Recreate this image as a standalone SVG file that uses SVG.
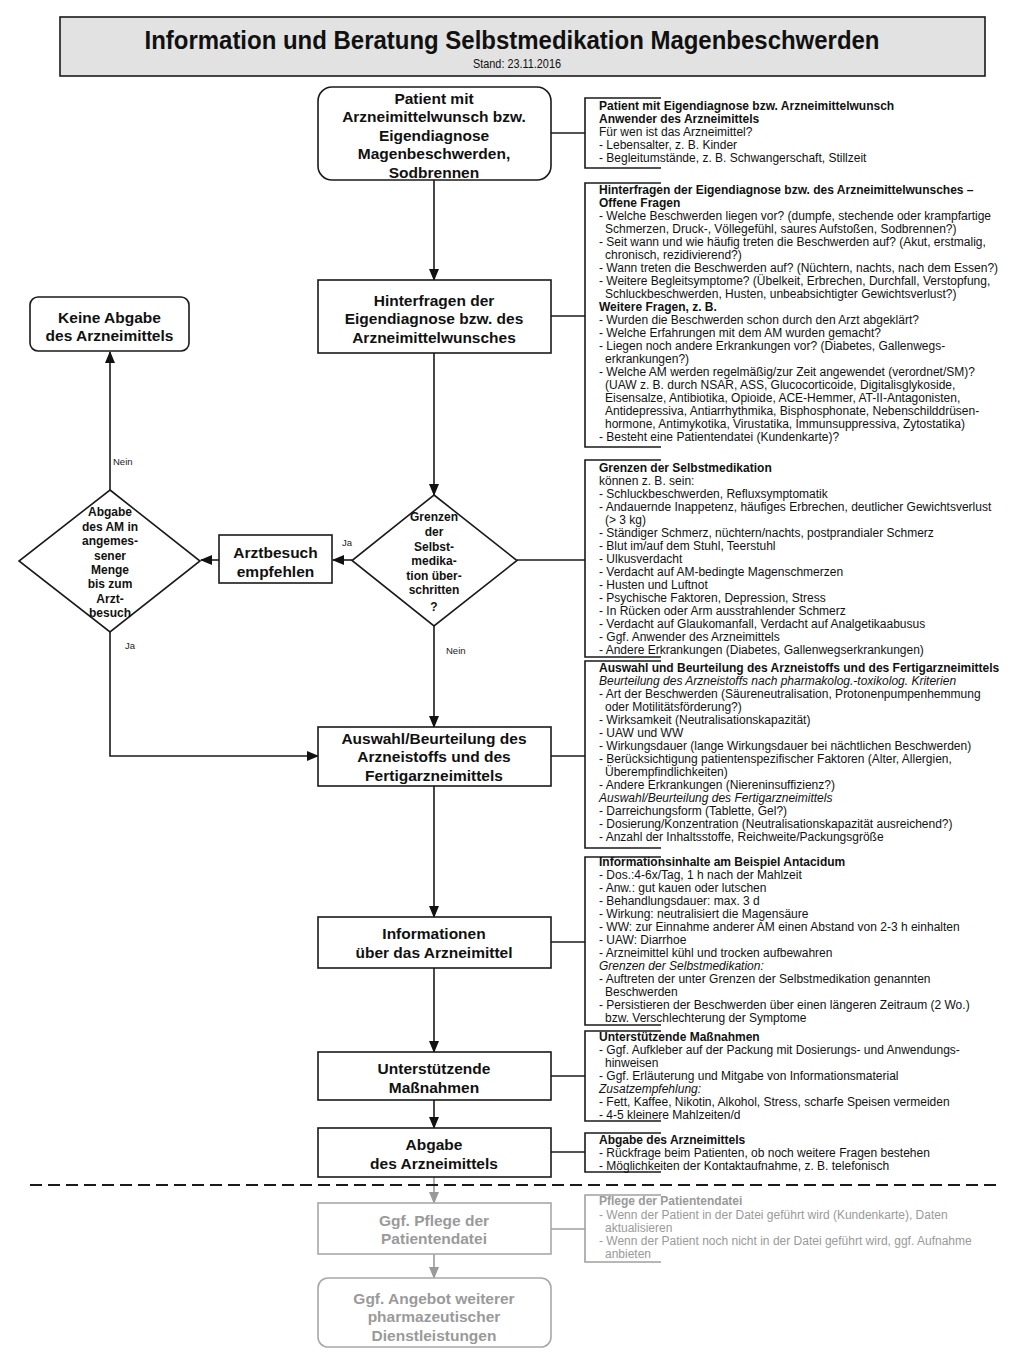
<svg xmlns="http://www.w3.org/2000/svg" width="1024" height="1366" viewBox="0 0 1024 1366">
<style>
.bx{fill:#fff;stroke:#1a1a1a;stroke-width:1.6}
.gbx{fill:#fff;stroke:#a8a8a8;stroke-width:1.6}
.nt{font-family:"Liberation Sans",Arial,sans-serif;font-weight:bold;font-size:15.5px;fill:#111;text-anchor:middle}
.gnt{font-family:"Liberation Sans",Arial,sans-serif;font-weight:bold;font-size:15.5px;fill:#9a9a9a;text-anchor:middle}
.dt{font-family:"Liberation Sans",Arial,sans-serif;font-weight:bold;font-size:12px;fill:#111;text-anchor:middle}
.lb{font-family:"Liberation Sans",Arial,sans-serif;font-size:9.5px;fill:#222}
.tx{font-family:"Liberation Sans",Arial,sans-serif;font-size:12px;fill:#111}
.gtx{font-family:"Liberation Sans",Arial,sans-serif;font-size:12px;fill:#9a9a9a}
.b{font-weight:bold}
.i{font-style:italic}
.ln{fill:none;stroke:#1a1a1a;stroke-width:1.6}
.gln{fill:none;stroke:#a0a0a0;stroke-width:1.6}
.ar{fill:none;stroke:#1a1a1a;stroke-width:1.6;marker-end:url(#ah)}
.gar{fill:none;stroke:#999;stroke-width:1.6;marker-end:url(#gah)}
</style>
<defs>
<marker id="ah" markerUnits="userSpaceOnUse" markerWidth="12" markerHeight="10" refX="11" refY="5" orient="auto"><path d="M0,0 L12,5 L0,10 z" fill="#111"/></marker>
<marker id="gah" markerUnits="userSpaceOnUse" markerWidth="12" markerHeight="10" refX="11" refY="5" orient="auto"><path d="M0,0 L12,5 L0,10 z" fill="#999"/></marker>
</defs>
<rect width="1024" height="1366" fill="#fff"/>

<g id="header">
<rect x="60" y="17" width="925" height="59" fill="#e2e2e2" stroke="#1a1a1a" stroke-width="1.6"/>
<text x="512" y="48.5" font-family="'Liberation Sans',Arial,sans-serif" font-weight="bold" font-size="25" text-anchor="middle" textLength="735" lengthAdjust="spacingAndGlyphs" fill="#111">Information und Beratung Selbstmedikation Magenbeschwerden</text>
<text x="517" y="68" font-family="'Liberation Sans',Arial,sans-serif" font-size="13" text-anchor="middle" textLength="88" lengthAdjust="spacingAndGlyphs" fill="#111">Stand: 23.11.2016</text>
</g>

<g id="connectors">
<path class="ar" d="M434,180 V280"/>
<path class="ar" d="M434,353 V495"/>
<path class="ar" d="M434,626 V727"/>
<path class="ar" d="M434,786 V917"/>
<path class="ar" d="M434,968 V1052"/>
<path class="ar" d="M434,1100 V1128"/>
<path class="gar" d="M434,1177 V1203"/>
<path class="gar" d="M434,1254 V1278"/>
<path class="ar" d="M352,560 H333"/>
<path class="ar" d="M219,560 H201"/>
<path class="ar" d="M110,490 V352"/>
<path class="ar" d="M110,632 V756 H318"/>
<path class="ln" d="M551,133 H585"/>
<path class="ln" d="M551,316 H585"/>
<path class="ln" d="M517,560 H585"/>
<path class="ln" d="M551,756 H585"/>
<path class="ln" d="M551,942 H585"/>
<path class="ln" d="M551,1076 H585"/>
<path class="ln" d="M551,1152 H585"/>
<path class="gln" d="M551,1229 H585"/>
<text class="lb" x="113" y="465">Nein</text>
<text class="lb" x="342" y="546">Ja</text>
<text class="lb" x="125" y="649">Ja</text>
<text class="lb" x="446" y="654">Nein</text>
<path d="M30,1185 H1000" fill="none" stroke="#1a1a1a" stroke-width="2" stroke-dasharray="12,6"/>
</g>

<g id="n-patient">
<rect class="bx" x="318" y="87" width="233" height="93" rx="14"/>
<text class="nt" x="434" y="103.5">Patient mit</text>
<text class="nt" x="434" y="122">Arzneimittelwunsch bzw.</text>
<text class="nt" x="434" y="140.5">Eigendiagnose</text>
<text class="nt" x="434" y="159">Magenbeschwerden,</text>
<text class="nt" x="434" y="177.5">Sodbrennen</text>
</g>

<g id="n-hinterfragen">
<rect class="bx" x="318" y="280" width="233" height="73"/>
<text class="nt" x="434" y="305.5">Hinterfragen der</text>
<text class="nt" x="434" y="324">Eigendiagnose bzw. des</text>
<text class="nt" x="434" y="342.5">Arzneimittelwunsches</text>
</g>

<g id="n-grenzen">
<path class="bx" d="M434,495 L517,560.5 L434,626 L352,560.5 Z"/>
<text class="dt" x="434" y="521">Grenzen</text>
<text class="dt" x="434" y="536">der</text>
<text class="dt" x="434" y="551">Selbst-</text>
<text class="dt" x="434" y="565">medika-</text>
<text class="dt" x="434" y="580">tion über-</text>
<text class="dt" x="434" y="594">schritten</text>
<text class="dt" x="434" y="611">?</text>
</g>

<g id="n-arztbesuch">
<rect class="bx" x="219" y="535" width="113" height="48"/>
<text class="nt" x="275.5" y="557.5">Arztbesuch</text>
<text class="nt" x="275.5" y="576.5">empfehlen</text>
</g>

<g id="n-abgabe-am">
<path class="bx" d="M110,490 L200,561 L110,632 L19,561 Z"/>
<text class="dt" x="110" y="516">Abgabe</text>
<text class="dt" x="110" y="531">des AM in</text>
<text class="dt" x="110" y="545">angemes-</text>
<text class="dt" x="110" y="560">sener</text>
<text class="dt" x="110" y="574">Menge</text>
<text class="dt" x="110" y="588">bis zum</text>
<text class="dt" x="110" y="603">Arzt-</text>
<text class="dt" x="110" y="617">besuch</text>
</g>

<g id="n-keine-abgabe">
<rect class="bx" x="30" y="297" width="159" height="54" rx="8"/>
<text class="nt" x="109.5" y="322.5">Keine Abgabe</text>
<text class="nt" x="109.5" y="340.5">des Arzneimittels</text>
</g>

<g id="n-auswahl">
<rect class="bx" x="318" y="727" width="233" height="59"/>
<text class="nt" x="434" y="743.5">Auswahl/Beurteilung des</text>
<text class="nt" x="434" y="762">Arzneistoffs und des</text>
<text class="nt" x="434" y="780.5">Fertigarzneimittels</text>
</g>

<g id="n-informationen">
<rect class="bx" x="318" y="917" width="233" height="51"/>
<text class="nt" x="434" y="938.5">Informationen</text>
<text class="nt" x="434" y="957.5">über das Arzneimittel</text>
</g>

<g id="n-unterstuetzende">
<rect class="bx" x="318" y="1052" width="233" height="48"/>
<text class="nt" x="434" y="1073.5">Unterstützende</text>
<text class="nt" x="434" y="1092.5">Maßnahmen</text>
</g>

<g id="n-abgabe">
<rect class="bx" x="318" y="1128" width="233" height="49"/>
<text class="nt" x="434" y="1150">Abgabe</text>
<text class="nt" x="434" y="1168.5">des Arzneimittels</text>
</g>

<g id="n-pflege">
<rect class="gbx" x="318" y="1203" width="233" height="51"/>
<text class="gnt" x="434" y="1225.5">Ggf. Pflege der</text>
<text class="gnt" x="434" y="1243.5">Patientendatei</text>
</g>

<g id="n-angebot">
<rect class="gbx" x="318" y="1278" width="233" height="69" rx="10"/>
<text class="gnt" x="434" y="1303.5">Ggf. Angebot weiterer</text>
<text class="gnt" x="434" y="1322">pharmazeutischer</text>
<text class="gnt" x="434" y="1340.5">Dienstleistungen</text>
</g>

<g id="note-1">
<path class="ln" d="M661,98 H585 V168 H661"/>
<text class="tx">
<tspan class="b" x="599" y="110">Patient mit Eigendiagnose bzw. Arzneimittelwunsch</tspan>
<tspan class="b" x="599" y="123">Anwender des Arzneimittels</tspan>
<tspan x="599" y="136">Für wen ist das Arzneimittel?</tspan>
<tspan x="599" y="149">- Lebensalter, z. B. Kinder</tspan>
<tspan x="599" y="162">- Begleitumstände, z. B. Schwangerschaft, Stillzeit</tspan>
</text>
</g>

<g id="note-2">
<path class="ln" d="M661,183 H585 V447 H661"/>
<text class="tx">
<tspan class="b" x="599" y="194">Hinterfragen der Eigendiagnose bzw. des Arzneimittelwunsches –</tspan>
<tspan class="b" x="599" y="207">Offene Fragen</tspan>
<tspan x="599" y="220">- Welche Beschwerden liegen vor? (dumpfe, stechende oder krampfartige</tspan>
<tspan x="605" y="233">Schmerzen, Druck-, Völlegefühl, saures Aufstoßen, Sodbrennen?)</tspan>
<tspan x="599" y="246">- Seit wann und wie häufig treten die Beschwerden auf? (Akut, erstmalig,</tspan>
<tspan x="605" y="259">chronisch, rezidivierend?)</tspan>
<tspan x="599" y="272">- Wann treten die Beschwerden auf? (Nüchtern, nachts, nach dem  Essen?)</tspan>
<tspan x="599" y="285">- Weitere Begleitsymptome? (Übelkeit, Erbrechen, Durchfall, Verstopfung,</tspan>
<tspan x="605" y="298">Schluckbeschwerden, Husten, unbeabsichtigter Gewichtsverlust?)</tspan>
<tspan class="b" x="599" y="311">Weitere Fragen, z. B.</tspan>
<tspan x="599" y="324">- Wurden die Beschwerden schon durch den Arzt abgeklärt?</tspan>
<tspan x="599" y="337">- Welche Erfahrungen mit dem AM wurden gemacht?</tspan>
<tspan x="599" y="350">- Liegen noch andere Erkrankungen vor? (Diabetes, Gallenwegs-</tspan>
<tspan x="605" y="363">erkrankungen?)</tspan>
<tspan x="599" y="376">- Welche AM werden regelmäßig/zur Zeit angewendet (verordnet/SM)?</tspan>
<tspan x="605" y="389">(UAW z. B. durch NSAR, ASS, Glucocorticoide, Digitalisglykoside,</tspan>
<tspan x="605" y="402">Eisensalze, Antibiotika, Opioide, ACE-Hemmer, AT-II-Antagonisten,</tspan>
<tspan x="605" y="415">Antidepressiva, Antiarrhythmika, Bisphosphonate, Nebenschilddrüsen-</tspan>
<tspan x="605" y="428">hormone, Antimykotika, Virustatika, Immunsuppressiva, Zytostatika)</tspan>
<tspan x="599" y="441">- Besteht eine Patientendatei (Kundenkarte)?</tspan>
</text>
</g>

<g id="note-3">
<path class="ln" d="M661,460 H585 V657 H661"/>
<text class="tx">
<tspan class="b" x="599" y="472">Grenzen der Selbstmedikation</tspan>
<tspan x="599" y="485">können z. B. sein:</tspan>
<tspan x="599" y="498">- Schluckbeschwerden, Refluxsymptomatik</tspan>
<tspan x="599" y="511">- Andauernde Inappetenz, häufiges Erbrechen, deutlicher Gewichtsverlust</tspan>
<tspan x="605" y="524">(&gt; 3 kg)</tspan>
<tspan x="599" y="537">- Ständiger Schmerz, nüchtern/nachts, postprandialer Schmerz</tspan>
<tspan x="599" y="550">- Blut im/auf dem Stuhl, Teerstuhl</tspan>
<tspan x="599" y="563">- Ulkusverdacht</tspan>
<tspan x="599" y="576">- Verdacht auf AM-bedingte Magenschmerzen</tspan>
<tspan x="599" y="589">- Husten und Luftnot</tspan>
<tspan x="599" y="602">- Psychische Faktoren, Depression, Stress</tspan>
<tspan x="599" y="615">- In Rücken oder Arm ausstrahlender Schmerz</tspan>
<tspan x="599" y="628">- Verdacht auf Glaukomanfall, Verdacht auf Analgetikaabusus</tspan>
<tspan x="599" y="641">- Ggf. Anwender des Arzneimittels</tspan>
<tspan x="599" y="654">- Andere Erkrankungen (Diabetes, Gallenwegserkrankungen)</tspan>
</text>
</g>

<g id="note-4">
<path class="ln" d="M661,661 H585 V848 H661"/>
<text class="tx">
<tspan class="b" x="599" y="672">Auswahl und Beurteilung des Arzneistoffs und des Fertigarzneimittels</tspan>
<tspan class="i" x="599" y="685">Beurteilung des Arzneistoffs nach pharmakolog.-toxikolog. Kriterien</tspan>
<tspan x="599" y="698">- Art der Beschwerden (Säureneutralisation, Protonenpumpenhemmung</tspan>
<tspan x="605" y="711">oder Motilitätsförderung?)</tspan>
<tspan x="599" y="724">- Wirksamkeit (Neutralisationskapazität)</tspan>
<tspan x="599" y="737">- UAW und WW</tspan>
<tspan x="599" y="750">- Wirkungsdauer (lange Wirkungsdauer bei nächtlichen Beschwerden)</tspan>
<tspan x="599" y="763">- Berücksichtigung patientenspezifischer Faktoren (Alter, Allergien,</tspan>
<tspan x="605" y="776">Überempfindlichkeiten)</tspan>
<tspan x="599" y="789">- Andere Erkrankungen (Niereninsuffizienz?)</tspan>
<tspan class="i" x="599" y="802">Auswahl/Beurteilung des Fertigarzneimittels</tspan>
<tspan x="599" y="815">- Darreichungsform (Tablette, Gel?)</tspan>
<tspan x="599" y="828">- Dosierung/Konzentration (Neutralisationskapazität ausreichend?)</tspan>
<tspan x="599" y="841">- Anzahl der Inhaltsstoffe, Reichweite/Packungsgröße</tspan>
</text>
</g>

<g id="note-5">
<path class="ln" d="M661,857 H585 V1025 H661"/>
<text class="tx">
<tspan class="b" x="599" y="866">Informationsinhalte am Beispiel Antacidum</tspan>
<tspan x="599" y="879">- Dos.:4-6x/Tag, 1 h nach der Mahlzeit</tspan>
<tspan x="599" y="892">- Anw.: gut kauen oder lutschen</tspan>
<tspan x="599" y="905">- Behandlungsdauer: max. 3 d</tspan>
<tspan x="599" y="918">- Wirkung: neutralisiert die Magensäure</tspan>
<tspan x="599" y="931">- WW: zur Einnahme anderer AM einen Abstand von 2-3 h einhalten</tspan>
<tspan x="599" y="944">- UAW: Diarrhoe</tspan>
<tspan x="599" y="957">- Arzneimittel kühl und trocken aufbewahren</tspan>
<tspan class="i" x="599" y="970">Grenzen der Selbstmedikation:</tspan>
<tspan x="599" y="983">- Auftreten der unter Grenzen der Selbstmedikation genannten</tspan>
<tspan x="605" y="996">Beschwerden</tspan>
<tspan x="599" y="1009">- Persistieren der Beschwerden über einen längeren Zeitraum (2 Wo.)</tspan>
<tspan x="605" y="1022">bzw. Verschlechterung der Symptome</tspan>
</text>
</g>

<g id="note-6">
<path class="ln" d="M661,1031 H585 V1121 H661"/>
<text class="tx">
<tspan class="b" x="599" y="1041">Unterstützende Maßnahmen</tspan>
<tspan x="599" y="1054">- Ggf. Aufkleber auf der Packung mit Dosierungs- und  Anwendungs-</tspan>
<tspan x="605" y="1067">hinweisen</tspan>
<tspan x="599" y="1080">- Ggf. Erläuterung und Mitgabe von Informationsmaterial</tspan>
<tspan class="i" x="599" y="1093">Zusatzempfehlung:</tspan>
<tspan x="599" y="1106">- Fett, Kaffee, Nikotin, Alkohol, Stress, scharfe Speisen vermeiden</tspan>
<tspan x="599" y="1119">- 4-5 kleinere Mahlzeiten/d</tspan>
</text>
</g>

<g id="note-7">
<path class="ln" d="M661,1133 H585 V1172 H661"/>
<text class="tx">
<tspan class="b" x="599" y="1144">Abgabe des Arzneimittels</tspan>
<tspan x="599" y="1157">- Rückfrage beim Patienten, ob noch weitere Fragen bestehen</tspan>
<tspan x="599" y="1170">- Möglichkeiten der Kontaktaufnahme, z. B. telefonisch</tspan>
</text>
</g>

<g id="note-8">
<path class="gln" d="M661,1195 H585 V1262 H661"/>
<text class="gtx">
<tspan class="b" x="599" y="1205">Pflege der Patientendatei</tspan>
<tspan x="599" y="1219">- Wenn der Patient in der Datei geführt wird (Kundenkarte), Daten</tspan>
<tspan x="605" y="1232">aktualisieren</tspan>
<tspan x="599" y="1245">- Wenn der Patient noch nicht in der Datei geführt wird, ggf. Aufnahme</tspan>
<tspan x="605" y="1258">anbieten</tspan>
</text>
</g>
</svg>
